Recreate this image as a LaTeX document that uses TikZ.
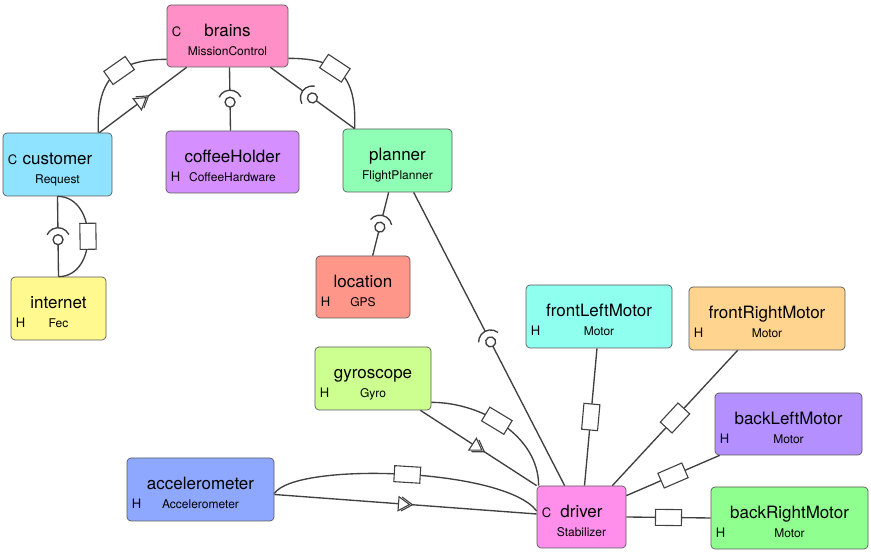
\documentclass[tikz,border=0pt]{standalone}
\usepackage{fontspec}
\setmainfont{TeX Gyre Heros}
\usepackage{tikz}
\usetikzlibrary{positioning}
\usetikzlibrary{calc}
\usetikzlibrary{decorations.markings}
\definecolor{linkc}{HTML}{404040}
\definecolor{boxc}{HTML}{5A5A5A}
\definecolor{cbrains}{HTML}{FF8FC7}
\definecolor{ccustomer}{HTML}{8FE3FF}
\definecolor{ccoffee}{HTML}{D68FFF}
\definecolor{cplanner}{HTML}{8FFFB5}
\definecolor{cinternet}{HTML}{FFF98F}
\definecolor{clocation}{HTML}{FF968A}
\definecolor{cgyro}{HTML}{CCFF8F}
\definecolor{caccel}{HTML}{8FA8FF}
\definecolor{cdriver}{HTML}{FF8FEB}
\definecolor{cflm}{HTML}{8FFFF0}
\definecolor{cfrm}{HTML}{FFD48F}
\definecolor{cblm}{HTML}{B38FFF}
\definecolor{cbrm}{HTML}{8FFF8F}

\begin{document}
\begin{tikzpicture}[x=1pt,y=1pt,
  box/.style={draw=boxc,line width=0.7pt,rounded corners=4pt,inner sep=0pt},
  nm/.style={font=\fontsize{17}{19}\selectfont,anchor=base,inner sep=0pt},
  tp/.style={font=\fontsize{12}{14}\selectfont,anchor=base,inner sep=0pt},
  kd/.style={font=\fontsize{13}{15}\selectfont,anchor=base west,inner sep=0pt},
  lk/.style={draw=linkc,line width=1.35pt},
  plug/.style={postaction={decorate},decoration={markings,
    mark=at position #1 with {\draw[lk,line width=1.1pt,fill=white] (-13,-8) rectangle (13,8);}}},
  socket/.style={postaction={decorate},decoration={markings,
    mark=at position #1 with {\fill[white] (-11.5,-2) rectangle (-5,2);
      \draw[lk,fill=white] (0,0) circle (5);
      \draw[lk] (115:12) arc (115:245:12);}}},
  uses/.style={postaction={decorate},decoration={markings,
    mark=at position #1 with {\fill[white] (-7,-7) -- (7,0) -- (-7,7) -- cycle;
      \draw[lk,line width=1.1pt] (-7,-7) -- (4,0) -- (-7,7) -- cycle;
      \draw[lk,line width=1.1pt] (-4,-7) -- (7,0) -- (-4,7);}}}]

  \useasboundingbox (0,0) rectangle (871,553);

  % components
  \node[box,fill=cbrains,minimum width=121,minimum height=62] (brains) at (227.5,517) {};
  \node[nm] (brains-n) at ([yshift=-32]brains.north) {brains};
  \node[tp] (brains-t) at ([yshift=-51]brains.north) {MissionControl};
  \node[kd] (brains-k) at ([xshift=5,yshift=-32]brains.north west) {C};

  \node[box,fill=ccustomer,minimum width=109,minimum height=63] (customer) at (57.5,388.5) {};
  \node[nm] (customer-n) at ([yshift=-32]customer.north) {customer};
  \node[tp] (customer-t) at ([yshift=-51]customer.north) {Request};
  \node[kd] (customer-k) at ([xshift=5,yshift=-32]customer.north west) {C};

  \node[box,fill=ccoffee,minimum width=133,minimum height=62] (coffee) at (232.5,391) {};
  \node[nm] (coffee-n) at ([yshift=-32]coffee.north) {coffeeHolder};
  \node[tp] (coffee-t) at ([yshift=-51]coffee.north) {CoffeeHardware};
  \node[kd] (coffee-k) at ([xshift=5,yshift=-51]coffee.north west) {H};

  \node[box,fill=cplanner,minimum width=109,minimum height=63] (planner) at (397.5,392.5) {};
  \node[nm] (planner-n) at ([yshift=-32]planner.north) {planner};
  \node[tp] (planner-t) at ([yshift=-51]planner.north) {FlightPlanner};

  \node[box,fill=cinternet,minimum width=95,minimum height=63] (internet) at (58.5,244.5) {};
  \node[nm] (internet-n) at ([yshift=-32]internet.north) {internet};
  \node[tp] (internet-t) at ([yshift=-51]internet.north) {Fec};
  \node[kd] (internet-k) at ([xshift=5,yshift=-51]internet.north west) {H};

  \node[box,fill=clocation,minimum width=94,minimum height=62] (location) at (363,266) {};
  \node[nm] (location-n) at ([yshift=-32]location.north) {location};
  \node[tp] (location-t) at ([yshift=-51]location.north) {GPS};
  \node[kd] (location-k) at ([xshift=5,yshift=-51]location.north west) {H};

  \node[box,fill=cgyro,minimum width=116,minimum height=63] (gyro) at (373,174.5) {};
  \node[nm] (gyro-n) at ([yshift=-32]gyro.north) {gyroscope};
  \node[tp] (gyro-t) at ([yshift=-51]gyro.north) {Gyro};
  \node[kd] (gyro-k) at ([xshift=5,yshift=-51]gyro.north west) {H};

  \node[box,fill=caccel,minimum width=147,minimum height=63] (accel) at (200.5,63.5) {};
  \node[nm] (accel-n) at ([yshift=-32]accel.north) {accelerometer};
  \node[tp] (accel-t) at ([yshift=-51]accel.north) {Accelerometer};
  \node[kd] (accel-k) at ([xshift=5,yshift=-51]accel.north west) {H};

  \node[box,fill=cdriver,minimum width=89,minimum height=62] (driver) at (581.5,36) {};
  \node[nm] (driver-n) at ([yshift=-32]driver.north) {driver};
  \node[tp] (driver-t) at ([yshift=-51]driver.north) {Stabilizer};
  \node[kd] (driver-k) at ([xshift=5,yshift=-32]driver.north west) {C};

  \node[box,fill=cflm,minimum width=146,minimum height=63] (flm) at (599,236.5) {};
  \node[nm] (flm-n) at ([yshift=-32]flm.north) {frontLeftMotor};
  \node[tp] (flm-t) at ([yshift=-51]flm.north) {Motor};
  \node[kd] (flm-k) at ([xshift=5,yshift=-51]flm.north west) {H};

  \node[box,fill=cfrm,minimum width=156,minimum height=63] (frm) at (767,234.5) {};
  \node[nm] (frm-n) at ([yshift=-32]frm.north) {frontRightMotor};
  \node[tp] (frm-t) at ([yshift=-51]frm.north) {Motor};
  \node[kd] (frm-k) at ([xshift=5,yshift=-51]frm.north west) {H};

  \node[box,fill=cblm,minimum width=147,minimum height=62] (blm) at (788.5,129) {};
  \node[nm] (blm-n) at ([yshift=-32]blm.north) {backLeftMotor};
  \node[tp] (blm-t) at ([yshift=-51]blm.north) {Motor};
  \node[kd] (blm-k) at ([xshift=5,yshift=-51]blm.north west) {H};

  \node[box,fill=cbrm,minimum width=157,minimum height=62] (brm) at (789.5,35) {};
  \node[nm] (brm-n) at ([yshift=-32]brm.north) {backRightMotor};
  \node[tp] (brm-t) at ([yshift=-51]brm.north) {Motor};
  \node[kd] (brm-k) at ([xshift=5,yshift=-51]brm.north west) {H};

  % connections
  \draw[lk,uses=0.5] ([xshift=-13]customer.north east) -- ([xshift=20]brains.south west);
  \draw[lk,plug=0.42] ([yshift=8]brains.south west) .. controls +(-52,0) and +(-2,52) .. ([xshift=-14]customer.north east);
  \draw[lk,socket=0.55] ([xshift=2]brains.south) -- ([xshift=-2]coffee.north);
  \draw[lk,socket=0.5] ([xshift=-18]brains.south east) -- ([xshift=12]planner.north west);
  \draw[lk,plug=0.42] ([yshift=9]brains.south east) .. controls +(52,0) and +(2,52) .. ([xshift=12]planner.north west);
  \draw[lk,socket=0.54] (customer.south) -- (internet.north);
  \draw[lk,plug=0.5] (customer.south) .. controls +(40,0) and +(40,0) .. (internet.north);
  \draw[lk,socket=0.55] ([xshift=46]planner.south west) -- ([xshift=57]location.north west);
  \draw[lk,socket=0.51] ([xshift=71]planner.south west) -- ([xshift=28]driver.north west);
  \draw[lk,uses=0.5] ([xshift=-11]gyro.south east) -- (driver.north west);
  \draw[lk,plug=0.46] ([yshift=8]gyro.south east) .. controls +(50,0) and +(0,50) .. ([xshift=2]driver.north west);
  \draw[lk,uses=0.5] ([yshift=-5]accel.east) -- ([yshift=3]driver.west);
  \draw[lk,plug=0.5] ([yshift=-4]accel.east) .. controls +(21,32) and +(-32,43) .. ([yshift=6]driver.west);
  \draw[lk,plug=0.5] ([xshift=-2]flm.south) -- ([xshift=3]driver.north);
  \draw[lk,plug=0.5] ([xshift=49]frm.south west) -- ([xshift=-14]driver.north east);
  \draw[lk,plug=0.5] ([xshift=5]blm.south west) -- ([yshift=-10]driver.north east);
  \draw[lk,plug=0.5] (driver.east) -- (brm.west);
\end{tikzpicture}
\end{document}
